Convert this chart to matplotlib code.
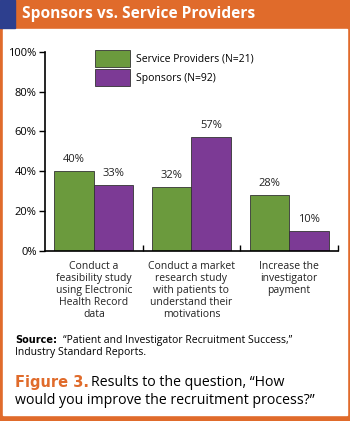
import matplotlib.pyplot as plt
from matplotlib.patches import Rectangle
import numpy as np

plt.rcParams['font.family'] = ['Open Sans', 'DejaVu Sans']

categories = ['Conduct a\nfeasibility study\nusing Electronic\nHealth Record\ndata',
              'Conduct a market\nresearch study\nwith patients to\nunderstand their\nmotivations',
              'Increase the\ninvestigator\npayment']
service = [40, 32, 28]
sponsors = [33, 57, 10]
series_names = ['Service Providers (N=21)', 'Sponsors (N=92)']
yticks = [0, 20, 40, 60, 80, 100]

green = '#6b9a3d'
purple = '#7c3a95'
orange = '#e06b2b'
blue = '#2d3f8e'

W, H = 350, 421
fig = plt.figure(figsize=(3.5, 4.21), dpi=100)

# frame: orange border, header bar, blue strip
fig.patches.append(Rectangle((0, 0), 1, 1, transform=fig.transFigure, color=orange, zorder=-3))
fig.patches.append(Rectangle((3 / W, 6 / H), 344 / W, (H - 29 - 6) / H,
                             transform=fig.transFigure, color='white', zorder=-2))
fig.patches.append(Rectangle((0, (H - 28) / H), 15 / W, 28 / H,
                             transform=fig.transFigure, color=blue, zorder=-1))
fig.text(22 / W, 1 - 14 / H, 'Sponsors vs. Service Providers', color='white',
         fontsize=11.2, fontweight='bold', va='center', ha='left')

ax = fig.add_axes([45 / W, (H - 250.7) / H, 293 / W, 199 / H])
x = np.arange(len(categories))
bw = 0.405
b1 = ax.bar(x - bw / 2, service, bw, color=green, edgecolor='#333333', linewidth=0.6,
            label=series_names[0])
b2 = ax.bar(x + bw / 2, sponsors, bw, color=purple, edgecolor='#333333', linewidth=0.6,
            label=series_names[1])
for bars, vals in ((b1, service), (b2, sponsors)):
    for r, v in zip(bars, vals):
        ax.text(r.get_x() + r.get_width() / 2, v + 3, f'{v}%', ha='center', va='bottom',
                fontsize=8, color='#222222')

ax.set_xlim(-0.5, 2.5)
ax.set_ylim(0, 100)
ax.spines['top'].set_visible(False)
ax.spines['right'].set_visible(False)
ax.set_yticks(yticks)
ax.set_yticklabels([f'{t}%' for t in yticks], fontsize=8)
ax.tick_params(axis='y', direction='out', length=4, width=1, pad=2)
ax.set_xticks([0.5, 1.5, 2.5])
ax.set_xticklabels([])
ax.tick_params(axis='x', direction='in', length=4, width=1)
for s in ('left', 'bottom'):
    ax.spines[s].set_linewidth(1.2)

for i, c in enumerate(categories):
    ax.text(i, -5, c, ha='center', va='top', fontsize=7.5, linespacing=1.15,
            color='#222222', transform=ax.transData)

ax.legend(loc='upper left', bbox_to_anchor=(0.14, 1.055), frameon=False, fontsize=7.5,
          handlelength=3.3, handleheight=2.1, handletextpad=0.6, labelspacing=0.2)

fig.text(15 / W, 1 - 340 / H, 'Source:', fontsize=7, va='center', ha='left',
         fontweight='bold', family='DejaVu Sans')
fig.text(63 / W, 1 - 340 / H, '\u201cPatient and Investigator Recruitment Success,\u201d',
         fontsize=7.5, va='center', ha='left')
fig.text(15 / W, 1 - 353 / H, 'Industry Standard Reports.', fontsize=7.5, va='center', ha='left')

fig.text(15 / W, 1 - 383 / H, 'Figure 3.', fontsize=10.5, fontweight='bold', color=orange,
         va='center', ha='left', family='DejaVu Sans')
fig.text(91 / W, 1 - 383 / H, 'Results to the question, \u201cHow', fontsize=10.2,
         va='center', ha='left')
fig.text(15 / W, 1 - 400 / H, 'would you improve the recruitment process?\u201d', fontsize=10.2,
         va='center', ha='left')

fig.savefig('out.png', dpi=100)
